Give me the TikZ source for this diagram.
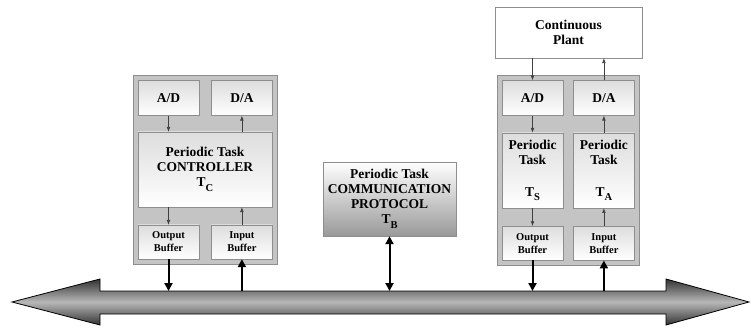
\documentclass[tikz,border=0pt]{standalone}
\usepackage{fontspec}
\setmainfont{Liberation Serif}
\usetikzlibrary{arrows.meta,positioning,fit,backgrounds}
\definecolor{rtframe}{HTML}{8E8E8E}
\definecolor{rtpanel}{HTML}{C4C4C4}
\definecolor{rtlight}{HTML}{DDDDDD}
\newcommand{\tsub}[1]{T\raisebox{-.7ex}{\fontsize{10.5}{11}\selectfont #1}}

\begin{document}
\begin{tikzpicture}[x=1pt,y=1pt,
   blk/.style={draw=rtframe,top color=rtlight,bottom color=white,
               minimum width=61pt,minimum height=35pt,align=center,
               inner sep=1pt,font=\bfseries\fontsize{13.5}{15}\selectfont},
   buf/.style={blk,minimum height=34pt,font=\bfseries\fontsize{10.5}{13}\selectfont},
   panel/.style={draw=rtframe,fill=rtpanel,inner sep=5pt},
   sig/.style={-{Latex[length=1.7mm,width=1.3mm]},black!75,line width=.6pt},
   busio/.style={-{Triangle[length=2.8mm,width=2.8mm]},line width=2pt}]
  \useasboundingbox (0,0) rectangle (751,329);
  % controller node
  \node[blk] (ADc) at (168.5,231) {A/D};
  \node[blk,right=12pt of ADc] (DAc) {D/A};
  \node[blk,minimum width=134pt,minimum height=75pt] (ctrl) at (205,159.5)
       {Periodic Task\\CONTROLLER\\\tsub{C}};
  \node[buf] (OBc) at (168.5,87) {Output\\Buffer};
  \node[buf,right=12pt of OBc] (IBc) {Input\\Buffer};
  % communication node
  \node[blk,top color=white,bottom color=black!40,minimum width=133pt,
        minimum height=74pt] (proto) at (389.5,130)
       {Periodic Task\\COMMUNICATION\\PROTOCOL\\\tsub{B}};
  % sensor / actuator node
  \node[blk,fill=white,top color=white,bottom color=white,minimum width=147pt,
        minimum height=51pt] (plant) at (568.5,296.5) {Continuous\\Plant};
  \node[blk] (ADs) at (532.5,231) {A/D};
  \node[blk,right=10pt of ADs] (DAs) {D/A};
  \node[blk,minimum height=75pt,below=17pt of ADs] (TS)
       {Periodic\\Task\\[17pt]\tsub{S}};
  \node[blk,minimum height=75pt,below=17pt of DAs] (TA)
       {Periodic\\Task\\[17pt]\tsub{A}};
  \node[buf,below=18pt of TS] (OBs) {Output\\Buffer};
  \node[buf,below=18pt of TA] (IBs) {Input\\Buffer};
  \begin{scope}[on background layer]
    \node[panel,fit=(ADc)(DAc)(OBc)(IBc)] (pC) {};
    \node[panel,fit=(ADs)(DAs)(OBs)(IBs)] (pS) {};
  \end{scope}
  \draw[sig] (ADc) -- (ADc |- ctrl.north);
  \draw[sig] (DAc |- ctrl.north) -- (DAc);
  \draw[sig] (ctrl.south -| OBc) -- (OBc);
  \draw[sig] (IBc) -- (IBc |- ctrl.south);
  \draw[sig] (plant.south -| ADs) -- (ADs);
  \draw[sig] (DAs) -- (DAs |- plant.south);
  \draw[sig] (ADs) -- (TS);
  \draw[sig] (TS) -- (OBs);
  \draw[sig] (IBs) -- (TA);
  \draw[sig] (TA) -- (DAs);
  % network bus
  \path[draw=black,line width=.8pt,top color=black!80,bottom color=black!80,
        middle color=black!28]
    (12,27) -- (100,50) -- (100,38) -- (666,38) -- (666,50) -- (749,27)
    -- (666,4) -- (666,15) -- (100,15) -- (100,4) -- cycle;
  \coordinate (bustop) at (0,38);
  \draw[busio] (OBc.south) -- (OBc.south |- bustop);
  \draw[busio] (IBc.south |- bustop) -- (IBc.south);
  \draw[busio,{Triangle[length=2.8mm,width=2.8mm]}-{Triangle[length=2.8mm,width=2.8mm]}]
    (proto.south) -- (proto.south |- bustop);
  \draw[busio] (OBs.south) -- (OBs.south |- bustop);
  \draw[busio] (IBs.south |- bustop) -- (IBs.south);
\end{tikzpicture}
\end{document}
